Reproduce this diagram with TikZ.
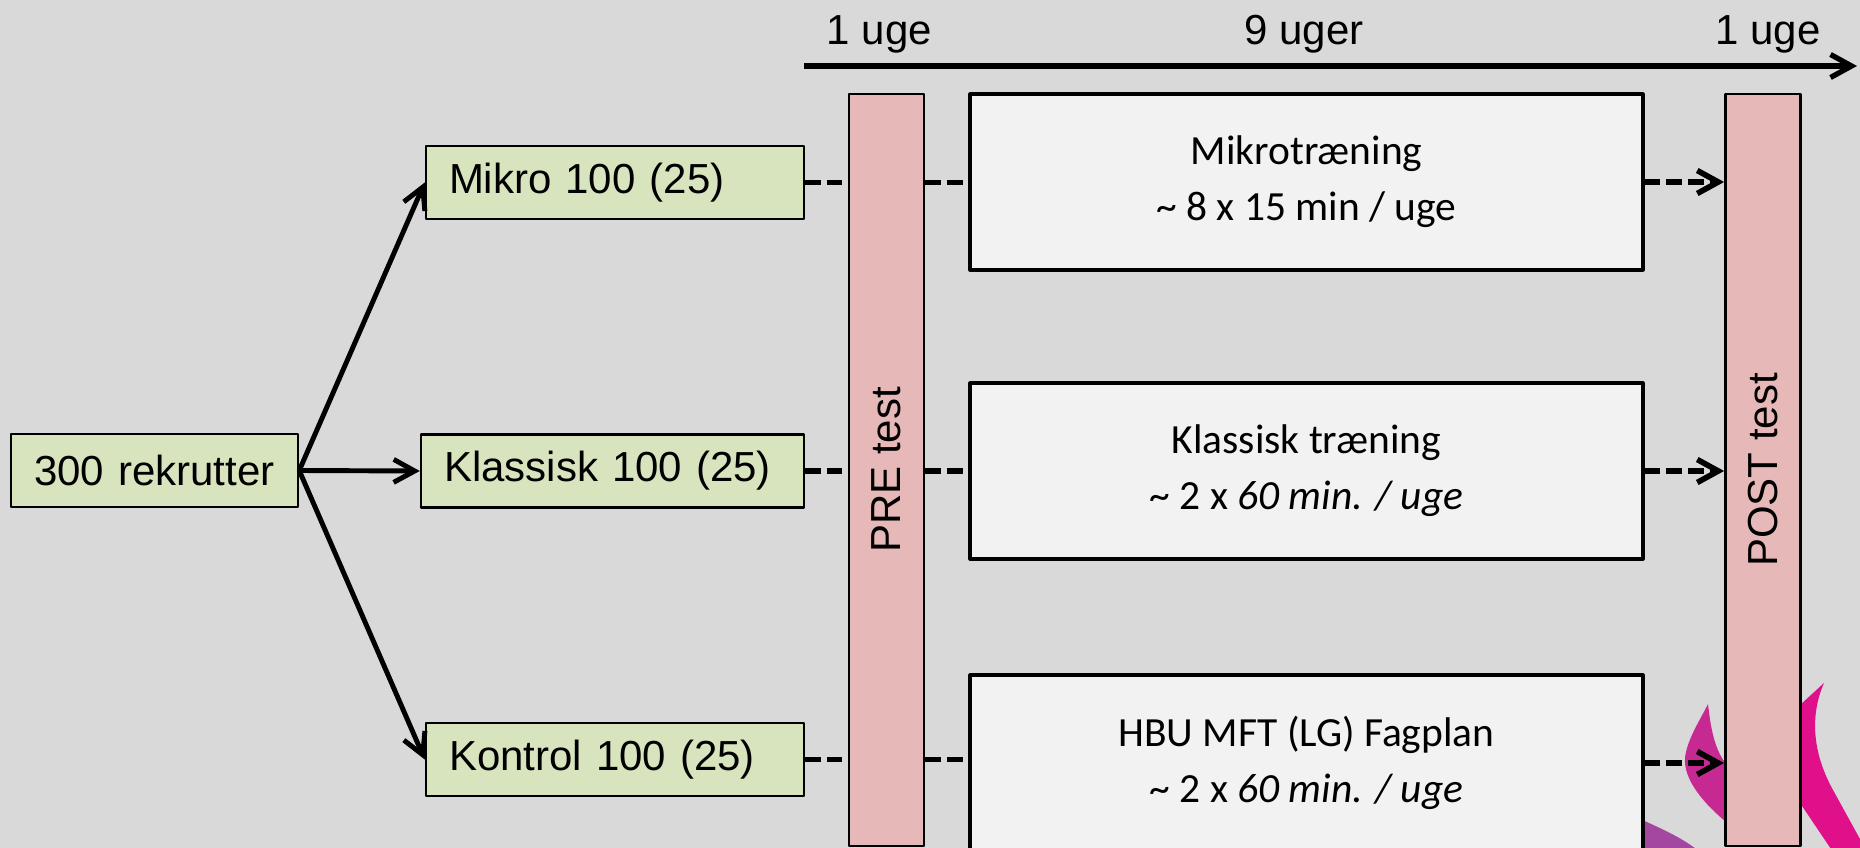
\documentclass[tikz,border=0pt]{standalone}
\usepackage{fontspec}
\setmainfont{Liberation Sans}
\newfontfamily\calibri{Carlito}
\usetikzlibrary{arrows.meta}
\definecolor{bggray}{HTML}{D9D9D9}
\definecolor{grpgreen}{HTML}{D7E4BD}
\definecolor{testpink}{HTML}{E6B9B8}
\definecolor{boxwhite}{HTML}{F2F2F2}
\definecolor{flameA}{HTML}{C62A92}
\definecolor{flameB}{HTML}{E0108A}
\definecolor{flameC}{HTML}{A347A0}

\begin{document}
\begin{tikzpicture}[x=0.1mm, y=-0.1mm, line join=round, font=\fontsize{11.95}{14}\selectfont,
	grp/.style={draw, line width=0.7pt, fill=grpgreen, minimum height=7.3mm, inner xsep=2.3mm, text width=33.2mm, align=left},
	testbar/.style={draw, line width=0.8pt, fill=testpink, minimum width=7.5mm, minimum height=75.2mm, inner sep=0pt},
	trainbox/.style={draw, line width=0.9pt, fill=boxwhite, minimum width=67.3mm, minimum height=17.6mm, align=center, font=\calibri\fontsize{11.8}{15.9}\selectfont},
	barb/.style={-{Straight Barb[length=2.1mm, width=2.3mm]}},
	link/.style={line width=1.6pt, dash pattern=on 4.4pt off 1.8pt},
	fan/.style={line width=1.4pt, barb}]
	\useasboundingbox (0,0) rectangle (1860,848);
	\clip (0,0) rectangle (1860,848);
	\fill[bggray] (0,0) rectangle (1860,848);
	
	% flames in the corner
	\fill[flameC] (1620,810) .. controls (1660,828) and (1680,836) .. (1700,852) -- (1620,852) -- cycle;
	\fill[flameA] (1708,704) .. controls (1712,740) and (1718,765) .. (1745,780) -- (1745,835) -- (1726,822)
		.. controls (1700,800) and (1680,775) .. (1686,752) .. controls (1690,735) and (1700,720) .. cycle;
	\fill[flameB] (1824,683) .. controls (1810,715) and (1812,752) .. (1833,790) -- (1866,850) -- (1833,852)
		-- (1800,803) -- (1780,800) -- (1780,715) -- (1800,705) -- cycle;
	
	% time axis
	\coordinate (t0) at (804,66);
	\coordinate (t1) at (1857,66);
	\draw[line width=1.5pt, barb] (t0) -- (t1);
	\node[anchor=base] (w1) at (879.5,45) {1 uge};
	\node[anchor=base] (w9) at (1304,45) {9 uger};
	\node[anchor=base] (w2) at (1768,45) {1 uge};
	
	\node[grp, align=center, text width=24.1mm] (rekrutter) at (154.5,470.5) {300 rekrutter};
	\node[grp] (mikro) at (615,182.5) {Mikro 100 (25)};
	\node[grp, text width=33.7mm] (klassisk) at (612.5,471) {Klassisk 100 (25)};
	\node[grp] (kontrol) at (615,759.5) {Kontrol 100 (25)};
	
	\node[testbar] (pre) at (886.5,470) {\rotatebox{90}{PRE test}};
	\node[testbar] (post) at (1763,470) {\rotatebox{90}{POST test}};
	
	\node[trainbox] (tmikro) at (1306.5,182) {Mikrotræning\\\textasciitilde\ 8 x 15 min / uge};
	\node[trainbox] (tklassisk) at (1306.5,471) {Klassisk træning\\\textasciitilde\ 2 x \textit{60 min. / uge}};
	\node[trainbox] (tkontrol) at (1306.5,763) {HBU MFT (LG) Fagplan\\\textasciitilde\ 2 x \textit{60 min. / uge}};
	
	\foreach \g/\t in {mikro/tmikro, klassisk/tklassisk, kontrol/tkontrol} {
		\draw[fan] (rekrutter.east) -- (\g.west);
		\draw[link] (\g.east) -- (\g.east -| pre.west);
		\draw[link] (\g.east -| pre.east) -- (\g.east -| \t.west);
		\draw[link, barb] (\t.east) -- (\t.east -| post.west);
	}
\end{tikzpicture}
\end{document}
